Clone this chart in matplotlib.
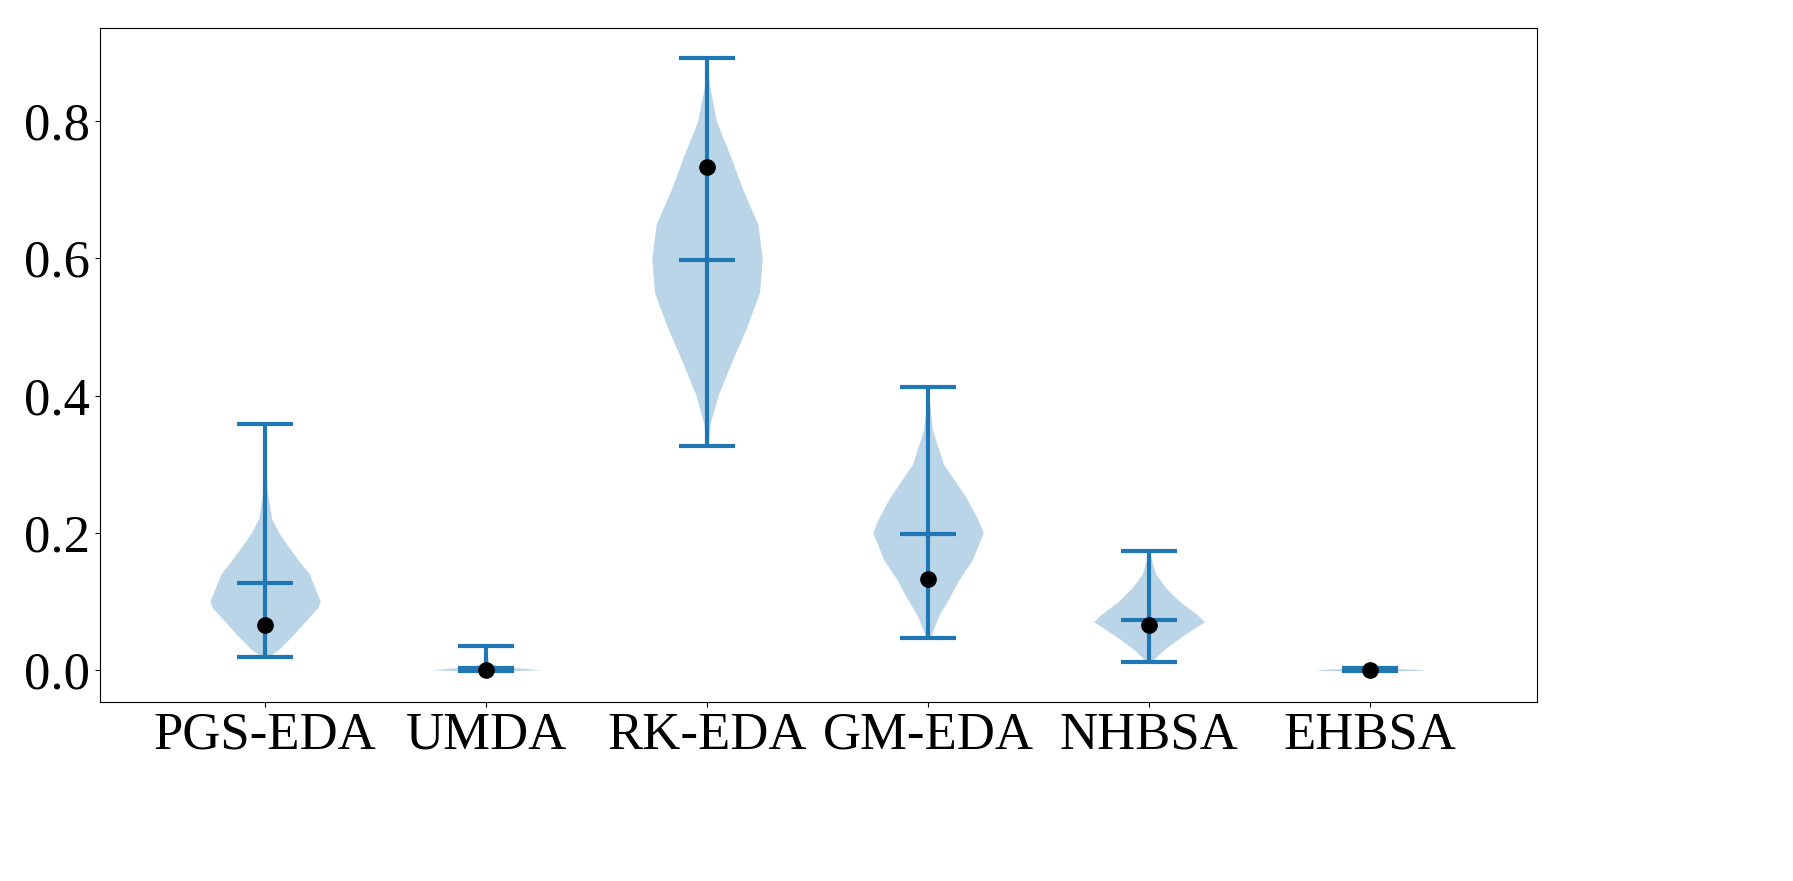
import matplotlib
matplotlib.use("Agg")
import matplotlib.pyplot as plt
import numpy as np

plt.rcParams['font.family'] = ['Liberation Serif', 'DejaVu Serif']

categories = ["PGS-EDA", "UMDA", "RK-EDA", "GM-EDA", "NHBSA", "EHBSA"]
mins = [0.018, -0.002, 0.326, 0.047, 0.012, -0.002]
maxs = [0.358, 0.035, 0.892, 0.412, 0.173, 0.003]
means = [0.127, 0.003, 0.597, 0.198, 0.073, 0.001]
dots = [0.066, -0.001, 0.733, 0.133, 0.066, -0.001]

# violin half-width profiles (value levels, relative density 0..1)
prof_y = [
    [0.018, 0.03, 0.05, 0.07, 0.09, 0.10, 0.12, 0.14, 0.16, 0.18, 0.20, 0.22, 0.26, 0.30, 0.358],
    [-0.002, -0.001, 0.0, 0.002, 0.005, 0.01, 0.02, 0.035],
    [0.326, 0.36, 0.40, 0.45, 0.50, 0.55, 0.60, 0.65, 0.70, 0.75, 0.80, 0.85, 0.892],
    [0.047, 0.06, 0.08, 0.10, 0.13, 0.16, 0.20, 0.22, 0.25, 0.28, 0.30, 0.35, 0.412],
    [0.012, 0.02, 0.03, 0.05, 0.07, 0.08, 0.10, 0.12, 0.14, 0.173],
    [-0.002, -0.001, 0.0, 0.001, 0.002, 0.003],
]
prof_w = [
    [0.05, 0.25, 0.5, 0.72, 0.95, 1.0, 0.9, 0.8, 0.6, 0.42, 0.25, 0.12, 0.04, 0.01, 0.0],
    [0.1, 0.6, 1.0, 0.7, 0.25, 0.05, 0.02, 0.0],
    [0.02, 0.06, 0.2, 0.45, 0.72, 0.95, 1.0, 0.92, 0.65, 0.42, 0.17, 0.05, 0.0],
    [0.04, 0.1, 0.2, 0.35, 0.55, 0.8, 1.0, 0.9, 0.7, 0.45, 0.28, 0.08, 0.0],
    [0.05, 0.15, 0.28, 0.62, 1.0, 0.88, 0.55, 0.3, 0.12, 0.0],
    [0.3, 0.8, 1.0, 0.8, 0.4, 0.0],
]

c = '#1f77b4'
fig = plt.figure(figsize=(17.93, 8.81), dpi=100)
ax = fig.add_axes([100/1793, 1-702/881, 1437/1793, 674/881])
for i in range(len(categories)):
    x = i + 1
    y = np.array(prof_y[i]); w = np.array(prof_w[i]) * 0.25
    ax.fill_betweenx(y, x - w, x + w, color=c, alpha=0.3, lw=0)
    ax.vlines(x, mins[i], maxs[i], color=c, lw=3)
    ax.hlines([mins[i], maxs[i], means[i]], x - 0.125, x + 0.125, color=c, lw=3)
    ax.plot(x, dots[i], 'o', color='black', ms=11, zorder=5)

ax.set_xlim(0.253, 6.756)
ax.set_ylim(-0.047, 0.936)
ax.set_xticks(range(1, 7))
ax.set_xticklabels(categories)
ax.set_yticks([0.0, 0.2, 0.4, 0.6, 0.8])
ax.tick_params(labelsize=38)
fig.savefig("out.png", dpi=100)
